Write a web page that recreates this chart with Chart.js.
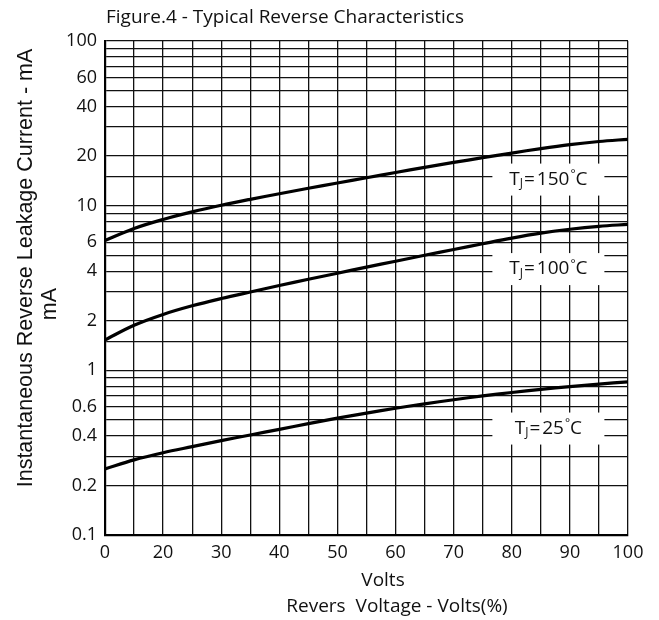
<!DOCTYPE html>
<html>
<head>
<meta charset="utf-8">
<script src="https://cdn.jsdelivr.net/npm/chart.js@4"></script>
<style>
  body { margin: 0; background: #fff; }
  canvas { display: block; }
</style>
</head>
<body>
<canvas id="chart" width="659" height="620"></canvas>
<script>
// x axis runs 10..100 in grid units; the left edge is labelled "0" on the original
const xVals = [10, 15, 20, 25, 30, 35, 40, 45, 50, 55, 60, 65, 70, 75, 80, 85, 90, 95, 100];
const t150 = [6.15, 7.27, 8.25, 9.17, 10.06, 10.93, 11.82, 12.75, 13.72, 14.77, 15.91, 17.08, 18.3, 19.56, 20.87, 22.21, 23.47, 24.52, 25.3];
const t100 = [1.53, 1.878, 2.186, 2.465, 2.728, 2.991, 3.272, 3.571, 3.889, 4.234, 4.6, 4.997, 5.416, 5.87, 6.349, 6.804, 7.19, 7.495, 7.7];
const t25 = [0.252, 0.286, 0.316, 0.344, 0.374, 0.405, 0.438, 0.4748, 0.5121, 0.55, 0.5882, 0.6259, 0.663, 0.6991, 0.7336, 0.7664, 0.797, 0.825, 0.851];

const xTickValues = [10, 20, 30, 40, 50, 60, 70, 80, 90, 100];
const xTickText = ['0', '20', '30', '40', '50', '60', '70', '80', '90', '100'];
const yTickLabels = [0.1, 0.2, 0.4, 0.6, 1, 2, 4, 6, 10, 20, 40, 60, 100];

const curveTemps = ['150', '100', '25'];
const curveLabelY = [14.4, 4.12, 0.443];
const curveLabelX = 86.3;

function pts(ys) {
  return xVals.map((x, i) => ({ x: x, y: ys[i] }));
}

const TICK_FONT = { family: 'Open Sans', size: 18 };

var textPlugin = {
  id: 'texts',
  beforeDraw: function(chart) {
    var c = chart.ctx;
    c.save();
    c.fillStyle = '#fff';
    c.fillRect(0, 0, chart.width, chart.height);
    c.restore();
  },
  afterDatasetsDraw: function(chart) {
    var c = chart.ctx;
    var sx = chart.scales.x, sy = chart.scales.y;
    c.save();
    c.textBaseline = 'middle';
    for (var i = 0; i < curveTemps.length; ++i) {
      var cx = sx.getPixelForValue(curveLabelX);
      var cy = sy.getPixelForValue(curveLabelY[i]);
      c.fillStyle = '#fff';
      c.fillRect(cx - 56, cy - 16, 112, 32);

      // T, subscript J, =temp, degree, C
      var big = '19px "Open Sans"', small = '12px "Open Sans"';
      var parts = [
        { t: 'T', f: big, dy: 0, sp: 0 },
        { t: 'J', f: small, dy: 4, sp: 1 },
        { t: '=', f: big, dy: 0, sp: 2 },
        { t: curveTemps[i], f: big, dy: 0, sp: 1 },
        { t: '\u00B0', f: small, dy: -5, sp: 0 },
        { t: 'C', f: big, dy: 0, sp: 0 }
      ];
      var w = 0;
      parts.forEach(function(p) { c.font = p.f; w += c.measureText(p.t).width + p.sp; });
      var px = cx - w / 2;
      c.fillStyle = '#111';
      c.textAlign = 'left';
      parts.forEach(function(p) {
        c.font = p.f;
        c.fillText(p.t, px, cy + p.dy);
        px += c.measureText(p.t).width + p.sp;
      });
    }
    c.restore();
  },
  afterDraw: function(chart) {
    var c = chart.ctx;
    c.save();
    c.fillStyle = '#111';
    c.textBaseline = 'middle';

    c.font = '19px "Open Sans"';
    c.textAlign = 'left';
    c.fillText('Figure.4 - Typical Reverse Characteristics', 106, 18);

    c.textAlign = 'center';
    c.fillText('Volts', 383, 581);
    c.fillText('Revers  Voltage - Volts(%)', 397, 607);

    c.font = '21.5px "Liberation Sans"';
    c.translate(26, 268);
    c.rotate(-Math.PI / 2);
    c.fillText('Instantaneous Reverse Leakage Current - mA', 0, 0);
    c.restore();

    c.save();
    c.fillStyle = '#111';
    c.font = '21.5px "Liberation Sans"';
    c.textAlign = 'center';
    c.textBaseline = 'middle';
    c.translate(50, 304);
    c.rotate(-Math.PI / 2);
    c.fillText('mA', 0, 0);
    c.restore();
  }
};

var ctx = document.getElementById('chart').getContext('2d');
var chart = new Chart(ctx, {
  type: 'line',
  data: {
    datasets: [
      { label: 'TJ=150', data: pts(t150) },
      { label: 'TJ=100', data: pts(t100) },
      { label: 'TJ=25', data: pts(t25) }
    ]
  },
  options: {
    responsive: false,
    animation: false,
    devicePixelRatio: 1,
    layout: { padding: { left: 0, right: 31, top: 41, bottom: 0 } },
    elements: {
      line: { borderColor: '#000', borderWidth: 3.2, tension: 0.35 },
      point: { radius: 0 }
    },
    plugins: {
      legend: { display: false },
      tooltip: { enabled: false }
    },
    scales: {
      x: {
        type: 'linear',
        min: 10,
        max: 100,
        afterFit: function(s) { s.height = 85; },
        grid: { color: '#111', lineWidth: 1.3, drawTicks: false },
        border: { display: true, color: '#000', width: 2.2 },
        ticks: {
          stepSize: 5,
          autoSkip: false,
          maxRotation: 0,
          padding: 7,
          color: '#111',
          font: TICK_FONT,
          callback: function(v) {
            var k = xTickValues.indexOf(v);
            return k >= 0 ? xTickText[k] : '';
          }
        }
      },
      y: {
        type: 'logarithmic',
        min: 0.1,
        max: 100,
        afterFit: function(s) { s.width = 105; },
        grid: { color: '#111', lineWidth: 1.3, drawTicks: false },
        border: { display: true, color: '#000', width: 2.2 },
        ticks: {
          autoSkip: false,
          padding: 8,
          color: '#111',
          font: TICK_FONT,
          callback: function(v) {
            for (var i = 0; i < yTickLabels.length; ++i) {
              if (Math.abs(v - yTickLabels[i]) < yTickLabels[i] * 1e-6) return String(yTickLabels[i]);
            }
            return '';
          }
        }
      }
    }
  },
  plugins: [textPlugin]
});
</script>
</body>
</html>
